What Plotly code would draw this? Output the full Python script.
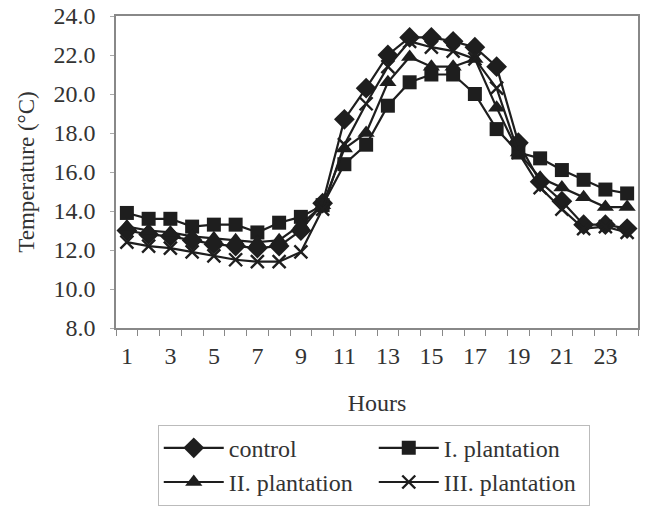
import plotly.graph_objects as go

hours = list(range(1, 25))
control = [13.0, 12.8, 12.7, 12.5, 12.3, 12.2, 12.1, 12.2, 13.0, 14.4, 18.7, 20.3,
           22.0, 22.9, 22.9, 22.7, 22.4, 21.4, 17.5, 15.5, 14.5, 13.3, 13.3, 13.1]
plant_1 = [13.9, 13.6, 13.6, 13.2, 13.3, 13.3, 12.9, 13.4, 13.7, 14.3, 16.4, 17.4,
           19.4, 20.6, 21.0, 21.0, 20.0, 18.2, 17.0, 16.7, 16.1, 15.6, 15.1, 14.9]
plant_2 = [13.2, 13.0, 12.9, 12.7, 12.6, 12.5, 12.4, 12.5, 13.3, 14.3, 17.2, 18.0,
           20.6, 21.9, 21.4, 21.4, 21.8, 19.3, 17.0, 15.7, 15.2, 14.7, 14.2, 14.2]
plant_3 = [12.4, 12.2, 12.1, 11.9, 11.7, 11.5, 11.4, 11.4, 11.9, 14.1, 17.4, 19.5,
           21.4, 22.7, 22.4, 22.2, 21.8, 20.3, 17.0, 15.2, 14.1, 13.1, 13.2, 12.9]
names = ["control", "I. plantation", "II. plantation", "III. plantation"]
x_tick_labels = [str(h) for h in range(1, 24, 2)]
y_tick_vals = [8, 10, 12, 14, 16, 18, 20, 22, 24]

ink = "#1e1e1e"
font_family = "Liberation Serif, Times New Roman, serif"

fig = go.Figure()
series = [control, plant_1, plant_2, plant_3]
symbols = ["diamond", "square", "triangle-up", "x-thin"]
sizes = [16, 14, 15, 13]
for name, vals, sym, sz in zip(names, series, symbols, sizes):
    marker = dict(symbol=sym, size=sz, color=ink)
    if sym == "x-thin":
        marker["line"] = dict(color=ink, width=2.4)
    fig.add_trace(go.Scatter(
        x=hours, y=vals, name=name, mode="lines+markers",
        line=dict(color=ink, width=2.2), marker=marker,
    ))

fig.update_layout(
    width=647, height=508,
    margin=dict(l=116, r=9, t=16, b=180, autoexpand=False),
    paper_bgcolor="white", plot_bgcolor="white",
    font=dict(family=font_family, size=24, color="#333"),
    showlegend=True,
    legend=dict(
        orientation="h", x=0.08, y=-0.31, xanchor="left", yanchor="top",
        xref="paper", yref="paper",
        entrywidth=140, entrywidthmode="pixels", itemwidth=60,
        bordercolor="#bbb", borderwidth=1, bgcolor="white",
        font=dict(family=font_family, size=24, color="#333"),
        tracegroupgap=0,
    ),
    xaxis=dict(
        range=[0.5, 24.5], automargin=False,
        tickmode="array", tickvals=list(range(1, 24, 2)), ticktext=x_tick_labels,
        ticks="", ticklabelstandoff=5,
        showline=True, linecolor="#888", linewidth=1.5, mirror=True,
        showgrid=False, zeroline=False,
        minor=dict(tickmode="linear", tick0=0.5, dtick=1, ticks="outside",
                   ticklen=6, tickcolor="#888", tickwidth=1, showgrid=False),
        title=dict(text="Hours", font=dict(size=24), standoff=27),
    ),
    yaxis=dict(
        range=[8, 24], automargin=False,
        tickmode="array", tickvals=y_tick_vals,
        ticktext=[f"{v:.1f}" for v in y_tick_vals],
        ticks="outside", ticklen=4, tickcolor="#aaa", ticklabelstandoff=10,
        showline=True, linecolor="#888", linewidth=1.5, mirror=True,
        showgrid=False, zeroline=False,
        title=dict(text="Temperature (°C)", font=dict(size=23), standoff=12),
    ),
)

fig.write_html("out.html", config={"displayModeBar": False},
               post_script="document.body.style.margin='0';")
